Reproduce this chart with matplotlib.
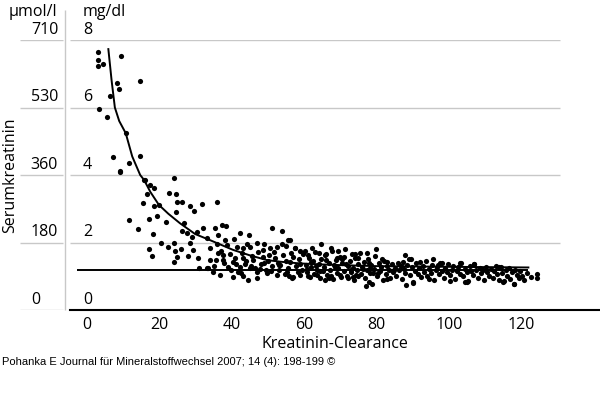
import matplotlib
matplotlib.use("Agg")
import matplotlib.pyplot as plt

# clearance (x) vs serum creatinine in mg/dl (y)
pts_x = [3.1, 2.95, 2.95, 4.5, 9.3, 8.3, 8.85, 14.7, 6.36, 3.4, 5.6, 10.7, 7.3, 14.65, 11.7, 9.1, 9.2,
         16.0, 17.4, 18.5, 24.1, 15.8, 16.5, 22.7, 24.5, 15.4, 18.5, 19.9, 24.8, 26.2, 28.5, 29.7, 31.9,
         24.6, 19.3, 17.1, 11.7, 21.8, 26.9, 14.2, 26.3, 27.6, 30.5, 18.3, 28.9, 20.5, 24.1, 28.5, 22.5,
         17.1, 24.3, 25.9, 29.2, 18.1, 24.8, 28.0, 30.8, 24.1, 31.0, 33.5, 34.0,
         35.9, 32.0, 35.4, 37.2, 38.4, 33.3, 36.3, 38.2, 42.3, 44.9, 51.1, 54.0, 56.1, 34.0, 36.3, 37.7,
         39.5, 41.4, 43.2, 45.1, 46.9, 48.7, 50.6, 52.4, 54.9, 57.5, 35.7, 37.7, 40.4, 43.2, 46.0, 48.7,
         52.0, 54.3, 57.0, 33.1, 34.9, 36.8, 40.4, 44.6, 46.9, 49.7, 52.4, 55.2, 57.0, 42.3, 45.1, 39.1,
         53.4, 55.6,
         35.2, 36.0, 37.0, 38.0, 38.8, 39.8, 40.6, 41.0, 41.8, 42.8, 43.6, 44.2, 45.6, 46.4, 47.4, 48.2,
         49.0, 49.4, 50.2, 51.0, 51.6, 52.8, 53.2, 53.8, 55.0, 55.6, 56.4, 57.8, 58.6, 59.4, 59.8,
         56.6, 57.5, 58.9, 60.2, 58.9, 61.2,
         60.5, 60.9, 61.3, 61.7, 62.0, 62.4, 62.8, 63.1, 63.6, 64.0, 64.3, 64.8, 65.2, 65.5, 65.9, 66.3,
         66.8, 67.2, 67.5, 67.9, 68.3, 68.7, 69.0, 69.5, 69.9, 70.2, 70.6, 71.0, 71.4, 71.8, 72.2, 72.6,
         73.0, 73.4, 73.7, 74.1, 74.6, 75.0, 75.4, 75.8, 76.1, 76.5, 76.9, 77.3, 77.7, 78.1, 78.5, 78.8,
         79.3, 79.7, 80.1, 80.6, 81.0, 81.4, 81.8, 82.2, 82.6, 83.0, 83.4, 83.8, 84.2, 84.6, 85.0, 85.5,
         85.9, 86.3, 86.7, 87.1, 87.6, 88.0, 88.5, 88.9, 89.3, 89.7, 90.1, 90.6, 91.0, 91.5, 91.9, 92.3,
         92.8, 93.2, 93.7, 94.1, 94.6, 95.0, 95.5, 95.9, 96.4, 96.8, 97.3, 97.7, 98.1, 98.6, 99.0, 99.5,
         99.9, 100.4, 100.8, 101.3, 101.7, 102.2, 102.6, 103.1, 103.5, 104.0, 104.4, 104.9, 105.3, 105.8,
         106.2, 106.7, 107.1, 107.6, 108.0, 108.5, 108.9, 109.4, 109.8, 110.3, 110.7, 111.2, 111.6, 112.1,
         112.5, 113.0, 113.4, 113.9, 114.3, 114.8, 115.2, 115.7, 116.1, 116.6, 117.0, 117.5, 117.9, 118.4,
         118.8, 119.3, 119.7, 120.2, 120.8, 121.5, 122.7, 124.5, 124.5,
         62.1, 64.7, 69.3, 73.2, 77.5, 79.9, 82.9, 87.9, 89.5, 95.7, 98.0, 103.1, 107.0, 114.0,
         77.1, 78.0, 88.2, 90.0, 94.4, 117.9, 64.2, 66.1, 67.6, 71.1, 74.1, 75.0, 81.5, 87.3,
         63.5, 67.0, 69.9, 72.2, 75.0, 80.5, 83.0, 100.2, 105.0, 104.5, 115.1,
         41.2, 42.6, 44.0, 45.3, 47.8, 49.0, 50.8, 53.0, 54.6, 56.2, 58.2, 59.0,
         60.7, 61.8, 63.3, 64.5, 66.0, 67.4, 68.6, 70.4, 71.6, 72.9, 74.4, 76.3, 77.9, 79.0,
         43.0, 47.0, 50.0, 55.8, 61.0, 65.7, 69.2, 73.6, 78.3, 84.8, 92.0, 97.0]
pts_y = [7.65, 7.41, 7.24, 7.28, 7.53, 6.72, 6.56, 6.79, 6.34, 5.95, 5.71, 5.24, 4.54, 4.56, 4.35, 4.13, 4.08,
         3.85, 3.7, 3.62, 3.9, 3.85, 3.44, 3.46, 3.43, 3.16, 3.08, 3.11, 3.19, 3.19, 3.09, 2.94, 3.14,
         2.91, 2.80, 2.70, 2.67, 2.60, 2.57, 2.40, 2.35, 2.29, 2.30, 2.25, 2.17, 2.0, 2.0, 2.0, 1.88,
         1.80, 1.76, 1.80, 1.78, 1.61, 1.56, 1.60, 1.55, 1.41, 1.23, 1.23, 1.48,
         3.21, 2.42, 2.42, 2.52, 2.50, 2.12, 2.22, 2.07, 2.29, 2.22, 2.44, 2.34, 2.07, 1.83, 1.68, 1.63,
         1.66, 1.88, 1.83, 1.88, 2.0, 1.78, 1.83, 1.88, 1.90, 1.83, 1.48, 1.48, 1.43, 1.53, 1.48, 1.58,
         1.53, 1.63, 1.58, 1.23, 1.14, 1.04, 0.99, 0.89, 1.14, 1.09, 1.04, 1.14, 0.99, 1.28, 1.23, 1.28,
         1.33, 2.07,
         1.30, 1.95, 1.75, 1.38, 1.92, 1.20, 2.10, 1.55, 1.12, 1.70, 1.35, 1.95, 1.60, 1.25, 1.72, 1.35,
         1.95, 1.20, 1.62, 1.30, 1.72, 1.40, 1.18, 1.95, 1.45, 1.25, 1.68, 1.30, 1.50, 1.20, 1.65,
         0.94, 1.85, 1.76, 1.76, 1.04, 1.01,
         1.32, 1.12, 1.55, 0.98, 1.27, 1.44, 1.08, 1.72, 1.20, 1.36, 0.95, 1.50, 1.15, 1.28, 1.62, 1.05,
         1.40, 1.18, 1.85, 0.92, 1.33, 1.48, 1.10, 1.25, 1.58, 0.97, 1.38, 1.16, 1.80, 1.02, 1.30, 1.45,
         1.12, 1.24, 0.88, 1.55, 1.20, 1.35, 1.68, 1.06, 1.28, 1.42, 0.96, 1.18, 1.52, 1.10, 1.32, 0.78,
         1.22, 1.60, 1.00, 1.38, 1.15, 1.27, 0.90, 1.45, 1.08, 1.30, 1.20, 0.95, 1.36, 1.12, 1.25, 1.02,
         1.40, 1.18, 1.30, 0.93, 1.22, 1.10, 1.33, 1.52, 1.05, 1.26, 0.82, 1.16, 1.38, 1.08, 1.24, 0.98,
         1.30, 1.14, 1.45, 1.02, 1.22, 1.10, 1.32, 0.90, 1.18, 1.28, 1.06, 1.40, 1.15, 0.95, 1.25, 1.12,
         1.35, 1.03, 1.20, 1.30, 0.92, 1.16, 1.27, 1.08, 1.38, 1.00, 1.22, 1.12, 0.86, 1.30,
         1.15, 1.05, 1.35, 1.20, 0.96, 1.25, 1.10, 1.18, 0.90, 1.28, 1.12, 1.02, 1.22, 0.95,
         1.16, 1.30, 1.06, 0.88, 1.26, 1.10, 0.85, 1.18, 1.00, 1.24, 0.92, 1.12, 0.78, 1.20,
         1.05, 0.95, 1.15, 1.02, 0.88, 1.10, 0.99, 1.07, 0.94,
         1.85, 1.95, 1.76, 1.65, 1.70, 1.81, 1.43, 1.63, 1.50, 1.50, 1.38, 1.38, 1.36, 1.28,
         0.71, 0.84, 0.74, 0.81, 0.91, 0.77, 1.68, 1.65, 1.75, 1.56, 1.65, 1.53, 1.50, 1.43,
         1.04, 0.94, 1.04, 0.94, 1.01, 1.09, 0.91, 0.87, 0.84, 0.84, 0.84,
         1.35, 1.10, 1.45, 1.30, 1.22, 1.40, 1.15, 1.32, 1.08, 1.42, 1.12, 1.36,
         1.22, 1.42, 1.30, 1.15, 1.48, 1.02, 1.26, 1.50, 1.35, 1.20, 1.05, 1.22, 1.40, 1.10,
         1.00, 0.95, 1.45, 1.02, 1.62, 0.90, 1.55, 0.98, 1.25, 1.18, 1.42, 1.32]

# fitted curve, points
curve_x = [5.9, 6.8, 7.7, 8.9, 10.7, 12.5, 14.7, 15.8, 17.5, 19.9, 22.5, 25.7, 29.9, 34.0,
           40.4, 45.0, 49.7, 53.5, 58.9, 65.0, 70.0, 80.0, 100.0, 122.0]
curve_y = [7.73, 6.8, 6.0, 5.6, 5.24, 4.55, 4.0, 3.85, 3.5, 3.11, 2.85, 2.57, 2.25, 2.07,
           1.78, 1.62, 1.48, 1.43, 1.38, 1.35, 1.33, 1.30, 1.28, 1.26]

ref_y = 1.2  # normal value line
ref_x = [-2.8, 122.0]

mg_ticks = [0, 2, 4, 6, 8]
umol_labels = ["0", "180", "360", "530", "710"]
x_ticks = [0, 20, 40, 60, 80, 100, 120]

W, H = 600, 412
font = "Open Sans"
grid_col = "#c8c8c8"

fig = plt.figure(figsize=(W / 100, H / 100), dpi=100)

# main panel: px 70..600 wide, y 0 at px 310, 8 at px 40
ax = fig.add_axes([70 / W, (H - 310) / H, (W - 70) / W, 270 / H])
ax.set_xlim(-4.7, 141.8)
ax.set_ylim(0, 8)
for t in mg_ticks[1:]:
    ax.hlines(t, -4.7, 130.8, color=grid_col, lw=1.0, zorder=1)
ax.hlines(ref_y, ref_x[0], ref_x[1], color="black", lw=1.4, zorder=3)
ax.plot(curve_x, curve_y, color="black", lw=1.4, zorder=3)
ax.scatter(pts_x, pts_y, s=14, color="black", linewidths=0, zorder=4)

for s in ["top", "right", "left"]:
    ax.spines[s].set_visible(False)
ax.spines["bottom"].set_linewidth(1.5)
ax.set_yticks([])
ax.set_xticks(x_ticks)
ax.tick_params(axis="x", length=0, pad=5, labelsize=11.5)
for lab in ax.get_xticklabels():
    lab.set_fontfamily(font)
ax.set_xlabel("Kreatinin-Clearance", fontsize=11.5, family=font, labelpad=2)

for t in mg_ticks:
    ax.text(-1.1, t + 0.31, str(t), ha="left", va="center", fontsize=11.5, family=font)

# left column with the µmol/l scale
axl = fig.add_axes([20 / W, (H - 310) / H, 45 / W, 270 / H])
axl.set_xlim(0, 1)
axl.set_ylim(0, 8)
axl.axis("off")
for t, lab in zip(mg_ticks, umol_labels):
    axl.hlines(t, 0, 0.96, color=grid_col, lw=1.0)
    axl.text(0.24, t + 0.31, lab, ha="left", va="center", fontsize=11.5, family=font)
axl.vlines(1.0, 0, 8.9, color=grid_col, lw=1.0, clip_on=False)

fig.text(33 / W, 1 - 12 / H, "µmol/l", ha="center", va="center", fontsize=11.5, family=font)
fig.text(83 / W, 1 - 12 / H, "mg/dl", ha="left", va="center", fontsize=11.5, family=font)
fig.text(10 / W, 1 - 175 / H, "Serumkreatinin", rotation=90, ha="center", va="center",
         fontsize=11.5, family=font)
fig.text(2 / W, 1 - 362 / H, "Pohanka E Journal für Mineralstoffwechsel 2007; 14 (4): 198-199 ©",
         ha="left", va="center", fontsize=8, family="Liberation Sans")

fig.savefig("out.png", dpi=100)
